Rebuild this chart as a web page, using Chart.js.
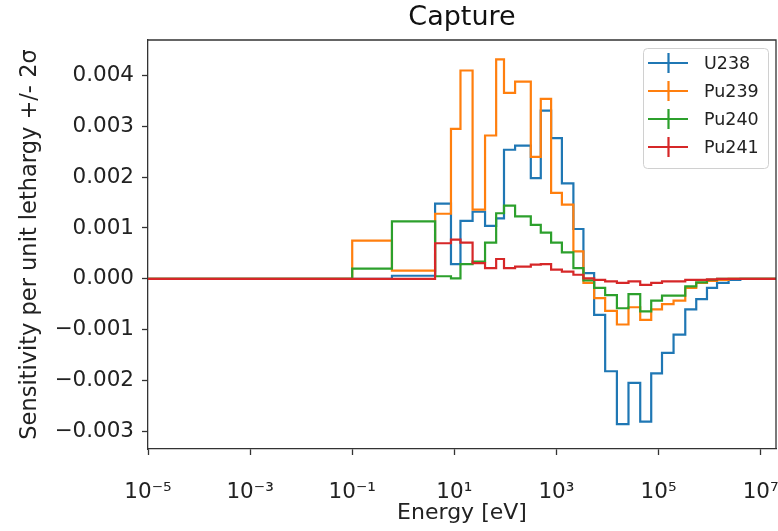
<!DOCTYPE html>
<html>
<head>
<meta charset="utf-8">
<script src="https://cdn.jsdelivr.net/npm/chart.js@4.4.0/dist/chart.umd.min.js"></script>
<style>
  html, body { margin: 0; padding: 0; background: #fff; }
  canvas { display: block; }
</style>
</head>
<body>
<canvas id="captureChart" width="778" height="531"></canvas>
<script>
// group boundaries (eV)
const energyEdges = [1e-5, 0.1, 0.6, 4.2, 8.6, 13.2, 22.8, 40, 66, 94, 155, 315, 494, 787, 1280, 2150,
    3380, 5480, 9010, 15300, 25800, 43800, 71900, 117000, 197000, 334000, 548000, 889000, 1.4e6, 2.36e6, 4e6, 2e7];

// sensitivity per group (one value per bin)
const u238 = [0, 0, 0.00006, 0.00148, 0.00029, 0.00114, 0.00132, 0.00104, 0.00119, 0.00254, 0.00262, 0.00198,
    0.00331, 0.00277, 0.00188, 0.00098, 0.00011, -0.00071, -0.00182, -0.00286, -0.00205, -0.00281, -0.00186,
    -0.00146, -0.0011, -0.0006, -0.0004, -0.00018, -0.00008, -0.00002, 0];
const pu239 = [0, 0.00075, 0.00016, 0.00128, 0.00295, 0.0041, 0.00136, 0.00282, 0.00432, 0.00366, 0.00388, 0.0024,
    0.00354, 0.00169, 0.00146, 0.00054, -0.00008, -0.00038, -0.00063, -0.0009, -0.00056, -0.00081, -0.0006,
    -0.0005, -0.00043, -0.00018, -0.00008, -0.00004, -0.00002, 0, 0];
const pu240 = [0, 0.0002, 0.00113, 0.00005, 0.00001, 0.00029, 0.00034, 0.00071, 0.00129, 0.00144, 0.00123, 0.00106,
    0.00091, 0.00071, 0.00052, 0.00021, -0.00003, -0.00018, -0.00032, -0.00058, -0.0003, -0.00064, -0.00043,
    -0.00033, -0.00033, -0.00015, -0.00007, -0.00002, 0, 0, 0];
const pu241 = [0, 0, 0, 0.0007, 0.00077, 0.00071, 0.00031, 0.00021, 0.00039, 0.00021, 0.00024, 0.00028,
    0.00029, 0.00018, 0.00014, 0.00008, 0.00001, -0.00002, -0.00005, -0.00008, -0.00005, -0.00012, -0.00008,
    -0.00005, -0.00005, -0.00002, -0.00002, -0.00001, 0, 0, 0];

const seriesNames = ['U238', 'Pu239', 'Pu240', 'Pu241'];
const seriesColors = ['#1f77b4', '#ff7f0e', '#2ca02c', '#d62728'];

const xTickValues = [1e-5, 1e-3, 1e-1, 1e1, 1e3, 1e5, 1e7];
const xTickLabels = ['10\u207B\u2075', '10\u207B\u00B3', '10\u207B\u00B9', '10\u00B9', '10\u00B3', '10\u2075', '10\u2077'];
const yTickValues = [-0.003, -0.002, -0.001, 0, 0.001, 0.002, 0.003, 0.004];

const FONT = 'DejaVu Sans';

// steps-post: each bin value starts at its left edge, last value repeated at the final edge
function stepPoints(values) {
    const pts = values.map((v, i) => ({x: energyEdges[i], y: v}));
    pts.push({x: energyEdges[energyEdges.length - 1], y: values[values.length - 1]});
    return pts;
}

const allSeries = [u238, pu239, pu240, pu241];
const datasets = allSeries.map((vals, i) => ({
    label: seriesNames[i],
    data: stepPoints(vals),
    borderColor: seriesColors[i],
    borderWidth: 2.2,
    stepped: 'before',
    pointRadius: 0,
    fill: false,
    order: allSeries.length - i
}));

const framePlugin = {
    id: 'frame',
    afterDraw(chart) {
        const c = chart.ctx;
        const a = chart.chartArea;
        c.save();
        // top + right spines
        c.strokeStyle = '#333';
        c.lineWidth = 1.3;
        c.beginPath();
        c.moveTo(a.left, a.top);
        c.lineTo(a.right, a.top);
        c.lineTo(a.right, a.bottom);
        c.stroke();

        // title
        c.fillStyle = '#111';
        c.font = '27px "' + FONT + '"';
        c.textAlign = 'center';
        c.textBaseline = 'alphabetic';
        c.fillText('Capture', (a.left + a.right) / 2, 25);

        // legend box
        const bx = 643, by = 48, bw = 125, bh = 120;
        c.fillStyle = 'rgba(255,255,255,0.8)';
        c.strokeStyle = '#d0d0d0';
        c.lineWidth = 1;
        c.beginPath();
        c.roundRect(bx + 0.5, by + 0.5, bw, bh, 4);
        c.fill();
        c.stroke();
        c.font = '17.5px "' + FONT + '"';
        c.textAlign = 'left';
        c.textBaseline = 'middle';
        seriesNames.forEach((name, i) => {
            const y = 63 + i * 28;
            c.strokeStyle = seriesColors[i];
            c.lineWidth = 2.2;
            c.beginPath();
            c.moveTo(648, y);
            c.lineTo(688, y);
            c.moveTo(668.5, y - 10);
            c.lineTo(668.5, y + 10);
            c.stroke();
            c.fillStyle = '#222';
            c.fillText(name, 704, y + 1);
        });
        c.restore();
    }
};

const ctx = document.getElementById('captureChart');
const myChart = new Chart(ctx, {
    type: 'line',
    data: { datasets: datasets },
    options: {
        responsive: false,
        animation: false,
        devicePixelRatio: 1,
        layout: { padding: { top: 40, right: 2, left: 0, bottom: 0 } },
        plugins: {
            legend: { display: false },
            title: { display: false },
            tooltip: { enabled: false }
        },
        scales: {
            x: {
                type: 'logarithmic',
                min: 1e-5,
                max: 2e7,
                afterBuildTicks: (s) => { s.ticks = xTickValues.map(v => ({value: v})); },
                afterFit: (s) => { s.height = 82; s.paddingLeft = 0; s.paddingRight = 0; },
                ticks: {
                    autoSkip: false,
                    maxRotation: 0,
                    padding: 25,
                    color: '#222',
                    font: { family: FONT, size: 21.5 },
                    callback: (v) => {
                        const k = xTickValues.findIndex(t => Math.abs(Math.log10(t) - Math.log10(v)) < 1e-6);
                        return k >= 0 ? xTickLabels[k] : '';
                    }
                },
                grid: { drawOnChartArea: false, drawTicks: true, tickLength: 6, color: '#333', tickWidth: 1.3 },
                border: { display: true, color: '#333', width: 1.3 },
                title: {
                    display: true,
                    text: 'Energy [eV]',
                    color: '#222',
                    font: { family: FONT, size: 22 },
                    padding: { top: 0, bottom: 5 }
                }
            },
            y: {
                type: 'linear',
                min: -0.00335,
                max: 0.0047,
                afterBuildTicks: (s) => { s.ticks = yTickValues.map(v => ({value: v})); },
                afterFit: (s) => { s.width = 148; },
                ticks: {
                    padding: 8,
                    color: '#222',
                    font: { family: FONT, size: 21.5 },
                    callback: (v) => v.toFixed(3).replace('-', '\u2212')
                },
                grid: { drawOnChartArea: false, drawTicks: true, tickLength: 6, color: '#333', tickWidth: 1.3 },
                border: { display: true, color: '#333', width: 1.3 },
                title: {
                    display: true,
                    text: 'Sensitivity per unit lethargy +/- 2\u03C3',
                    color: '#222',
                    font: { family: FONT, size: 22.5 },
                    padding: { top: 17, bottom: 0 }
                }
            }
        }
    },
    plugins: [framePlugin]
});
</script>
</body>
</html>
